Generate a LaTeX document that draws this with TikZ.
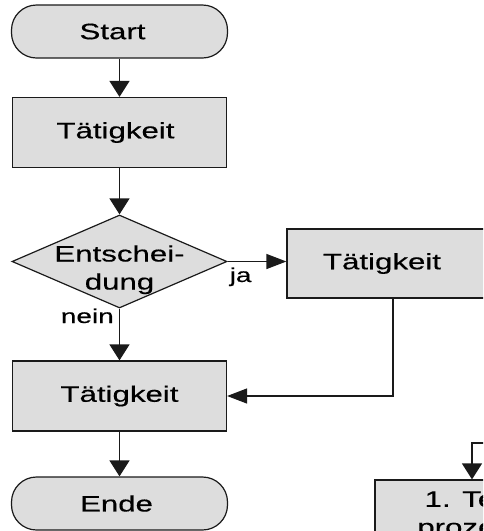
\documentclass[tikz,border=0pt]{standalone}
\usepackage{fontspec}
\setmainfont{Liberation Sans}[FakeStretch=1.4,FakeBold=0.4]
\usetikzlibrary{arrows.meta,shapes.geometric}
\definecolor{shapefill}{HTML}{DDDDDD}
\definecolor{ink}{HTML}{1A1A1A}
\begin{document}
\begin{tikzpicture}[x=1pt,y=-1pt,
  txt/.style={font=\fontsize{22.3}{28}\selectfont},
  base/.style={draw=ink, fill=shapefill, line width=1.2pt, inner sep=0pt, txt},
  terminal/.style={base, rectangle, rounded corners=25pt, minimum width=216pt, minimum height=53pt},
  process/.style={base, rectangle, minimum width=214pt, minimum height=70pt, align=center},
  decision/.style={base, diamond, minimum width=215pt, minimum height=93pt},
  lbl/.style={font=\fontsize{20}{24}\selectfont, inner sep=0pt},
  vflow/.style={draw=ink, line width=1.3pt, -{Triangle[length=16pt,width=20pt]}},
  hflow/.style={draw=ink, line width=1.3pt, -{Triangle[length=20pt,width=15pt]}},
]
\useasboundingbox (0,0) rectangle (483,531);
\clip (0,0) rectangle (483,531);

% flow chart shapes (a leading \kern nudges a label off the centre)
\node[terminal] (start) at (119.5,31.5) {\kern-14pt Start};
\node[process] (t1) at (119.5,132.5) {\kern-8pt Tätigkeit};
\node[decision] (dec) at (119.5,261.5)
  {\makebox[0pt]{\raisebox{0pt}[0pt][0pt]{\begin{tabular}[t]{@{}c@{}}Entschei-\\dung\end{tabular}}}};
\node[process, minimum width=212pt, minimum height=69pt] (t2) at (393,263.5) {\kern-22pt Tätigkeit};
\node[process] (t3) at (119.5,396) {Tätigkeit};
\node[terminal] (end) at (119.5,503.5) {\kern-6pt Ende};
\node[process, minimum width=194pt] (t4) at (472,515) {1. Teil-\\prozess};

% branch labels
\node[lbl, anchor=base west] (ja) at (229.5,282) {ja};
\node[lbl, anchor=base east] (nein) at (114,323) {nein};

% connectors
\draw[vflow] (start) -- (t1);
\draw[vflow] (t1) -- (dec);
\draw[hflow] (dec.east) -- (dec.east -| t2.west);
\draw[vflow] (dec) -- (t3);
\draw[hflow] (t2.south) |- (t3.east);
\draw[vflow] (t3) -- (end);
\coordinate (feed) at (495,443);
\draw[vflow] (feed) -| (t4.north);
\end{tikzpicture}
\end{document}
